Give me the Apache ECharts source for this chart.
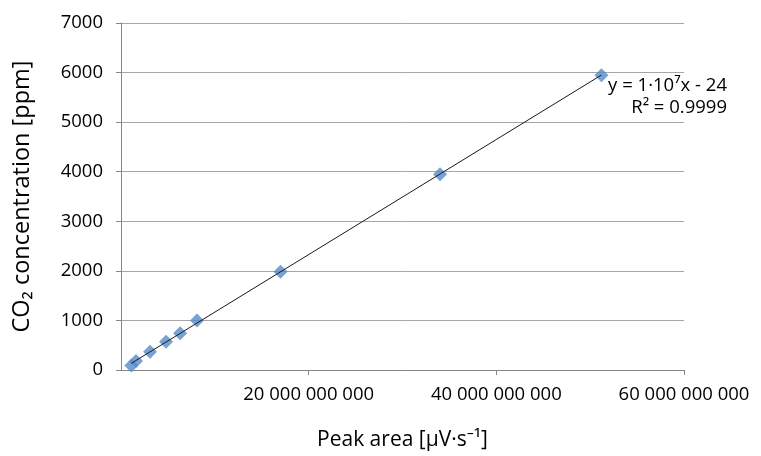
<!DOCTYPE html>
<html>
<head>
<meta charset="utf-8">
<script src="https://cdn.jsdelivr.net/npm/echarts@6/dist/echarts.min.js"></script>
<style>
html,body{margin:0;padding:0;background:#fff;}
#main{width:761px;height:456px;}
</style>
</head>
<body>
<div id="main"></div>
<script>
// Peak area [µV·s⁻¹]
var peakArea = [1.1e9, 1.6e9, 3.1e9, 4.8e9, 6.3e9, 8.1e9, 17.0e9, 34.0e9, 51.2e9];
// CO2 concentration [ppm]
var concentration = [90, 180, 370, 570, 740, 1000, 1980, 3950, 5945];
var yTicks = [0, 1000, 2000, 3000, 4000, 5000, 6000, 7000];
var xTicks = [0, 20e9, 40e9, 60e9];
var trendText = ['y = 1·10⁷x - 24', 'R² = 0.9999'];

// least-squares trendline over the data range
var n = peakArea.length, sx = 0, sy = 0, sxx = 0, sxy = 0;
for (var i = 0; i < n; i++) { sx += peakArea[i]; sy += concentration[i]; sxx += peakArea[i]*peakArea[i]; sxy += peakArea[i]*concentration[i]; }
var slope = (n*sxy - sx*sy) / (n*sxx - sx*sx);
var intercept = (sy - slope*sx) / n;
var xMinD = Math.min.apply(null, peakArea), xMaxD = Math.max.apply(null, peakArea);
var trend = [[xMinD, slope*xMinD + intercept], [xMaxD, slope*xMaxD + intercept]];

var points = peakArea.map(function (x, i) { return [x, concentration[i]]; });

function fmtSpace(v) {
  return String(Math.round(v)).replace(/\B(?=(\d{3})+(?!\d))/g, ' ');
}

var FONT = '"Open Sans", "Noto Sans", sans-serif';
var chart = echarts.init(document.getElementById('main'), null, {renderer: 'canvas'});
chart.setOption({
  backgroundColor: '#ffffff',
  animation: false,
  grid: {left: 121, right: 77, top: 23, bottom: 86},
  xAxis: {
    type: 'value',
    min: xTicks[0], max: xTicks[xTicks.length - 1], interval: xTicks[1] - xTicks[0],
    name: 'Peak area [µV·s⁻¹]',
    nameLocation: 'middle', nameGap: 60,
    nameTextStyle: {fontFamily: FONT, fontSize: 21, color: '#000'},
    axisLine: {show: true, lineStyle: {color: '#868686', width: 1}},
    axisTick: {show: true, length: 5, lineStyle: {color: '#868686'}},
    axisLabel: {
      showMinLabel: false, margin: 15,
      fontFamily: FONT, fontSize: 18.5, color: '#000',
      formatter: function (v) { return fmtSpace(v); }
    },
    splitLine: {show: false}
  },
  yAxis: {
    type: 'value',
    min: yTicks[0], max: yTicks[yTicks.length - 1], interval: yTicks[1] - yTicks[0],
    name: 'CO₂ concentration [ppm]',
    nameLocation: 'middle', nameGap: 87,
    nameTextStyle: {fontFamily: FONT, fontSize: 23.5, color: '#000'},
    axisLine: {show: true, lineStyle: {color: '#868686', width: 1}},
    axisTick: {show: true, length: 5, lineStyle: {color: '#868686'}},
    axisLabel: {margin: 18, fontFamily: FONT, fontSize: 18.5, color: '#000',
      formatter: function (v) { return String(v); }},
    splitLine: {show: true, lineStyle: {color: '#a6a6a6', width: 1}}
  },
  series: [
    {
      type: 'line', data: trend, symbol: 'none', silent: true,
      lineStyle: {color: '#1a1a1a', width: 1}, z: 3
    },
    {
      type: 'scatter', data: points, symbol: 'diamond', symbolSize: 14,
      itemStyle: {color: '#558bc9'}, z: 2
    }
  ],
  graphic: [
    {type: 'text', right: 34, top: 76, style: {text: trendText[0], font: '18.5px ' + FONT, fill: '#000'}},
    {type: 'text', right: 34, top: 98, style: {text: trendText[1], font: '18.5px ' + FONT, fill: '#000'}}
  ]
});
</script>
</body>
</html>
